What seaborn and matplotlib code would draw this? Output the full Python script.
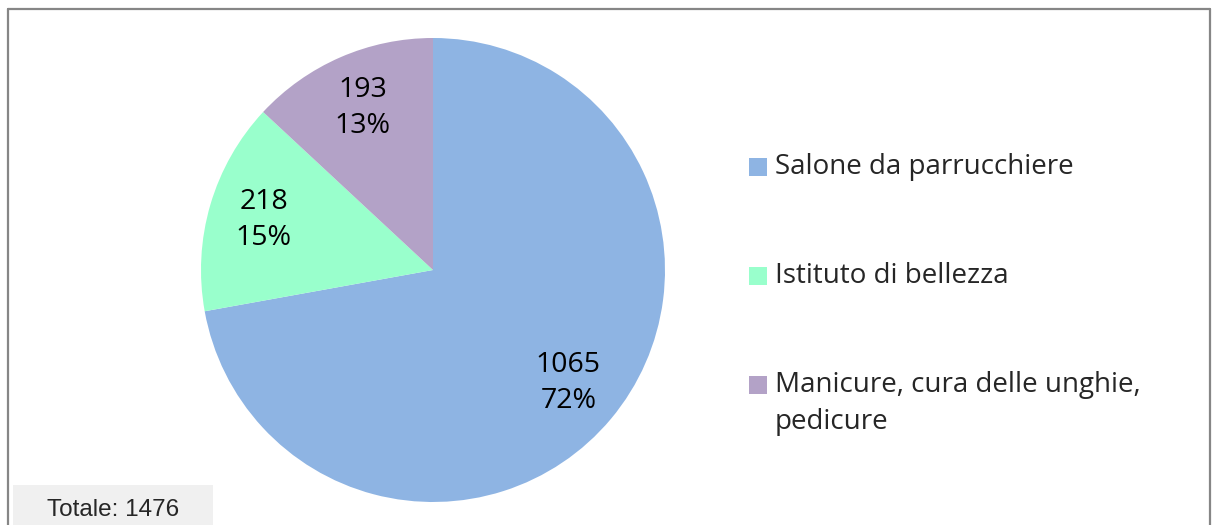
import matplotlib
matplotlib.use('Agg')
import matplotlib.pyplot as plt
import seaborn as sns
from matplotlib.patches import Rectangle
from matplotlib.lines import Line2D

# Data
categories = ['Salone da parrucchiere', 'Istituto di bellezza',
              'Manicure, cura delle unghie,\npedicure']
counts = [1065, 218, 193]
colors = ['#8EB4E3', '#99FFCC', '#B3A2C7']
total = sum(counts)

W, H = 1213, 525

sns.set_theme(style='white')
plt.rcParams['font.family'] = ['Open Sans', 'DejaVu Sans']

fig = plt.figure(figsize=(W / 100, H / 100), dpi=100)

# pie axes: centre (433, 270) px, radius ~232 px
cx, cy, r = 433, 270, 232
ax = fig.add_axes([(cx - r) / W, (H - cy - r) / H, 2 * r / W, 2 * r / H])


def fmt(pct):
    val = int(round(pct * total / 100.0))
    return f'{val}\n{pct:.0f}%'


wedges, _, autotexts = ax.pie(
    counts, colors=colors, startangle=90, counterclock=False,
    autopct=fmt, pctdistance=0.76, radius=1.0,
    wedgeprops=dict(linewidth=0),
    textprops=dict(fontsize=20.5, color='black', linespacing=1.38))
ax.set_xlim(-1, 1)
ax.set_ylim(-1, 1)
ax.set_aspect('equal')
ax.axis('off')

# legend drawn by hand so the marker sits on the first text line
leg_x, leg_y0, leg_dy = 749, 167, 109
sq = 18
for i, (lab, col) in enumerate(zip(categories, colors)):
    y = leg_y0 + i * leg_dy
    fig.add_artist(Rectangle(((leg_x) / W, (H - y - sq / 2) / H), sq / W, sq / H,
                             transform=fig.transFigure, facecolor=col,
                             edgecolor='none'))
    fig.text((leg_x + 26) / W, (H - y) / H, lab.split('\n')[0], fontsize=20,
             va='center', ha='left')
    for j, extra in enumerate(lab.split('\n')[1:]):
        fig.text((leg_x + 26) / W, (H - y - 37 * (j + 1)) / H, extra,
                 fontsize=20, va='center', ha='left')

# outer frame
frame_kw = dict(color='#868686', linewidth=1.6, transform=fig.transFigure)
fig.add_artist(Line2D([8 / W, 8 / W], [0, (H - 9) / H], **frame_kw))
fig.add_artist(Line2D([8 / W, 1210 / W], [(H - 9) / H, (H - 9) / H], **frame_kw))
fig.add_artist(Line2D([1210 / W, 1210 / W], [0, (H - 9) / H], **frame_kw))

# total box
fig.add_artist(Rectangle((13 / W, 0), 200 / W, 40 / H, transform=fig.transFigure,
                         facecolor='#F0F0F0', edgecolor='none'))
fig.text(113 / W, (H - 510) / H, f'Totale: {total}', fontsize=17.5,
         family='Liberation Sans', ha='center', va='center')

fig.savefig('out.png', dpi=100)
